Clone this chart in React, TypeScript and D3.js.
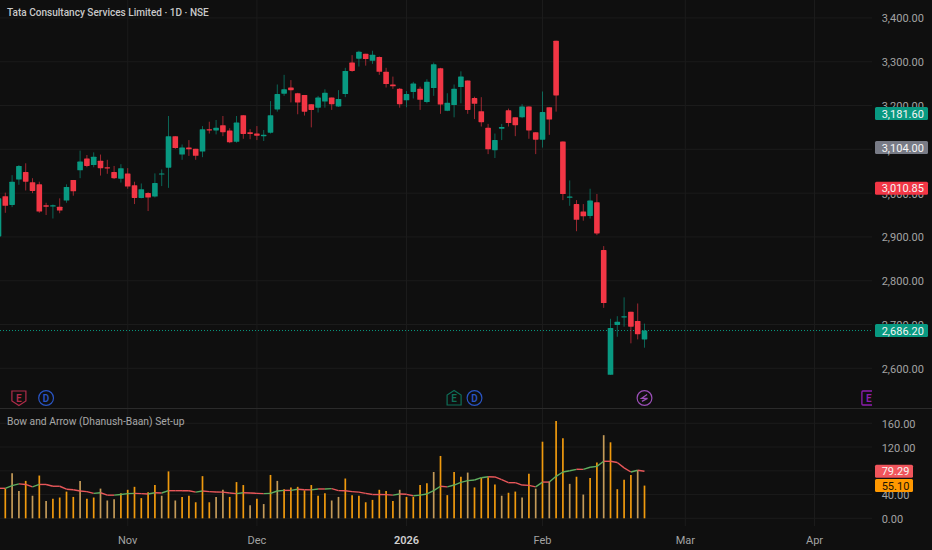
import React from "react";
import * as d3 from "d3";

const title = "Tata Consultancy Services Limited · 1D · NSE";
const paneTitle = "Bow and Arrow (Dhanush-Baan) Set-up";

const opens = [2901,2993,2973,3031,3048,3025,3020,2972,2970,2969,2983,3030,3052,3079,3064,3074,3059,3048,3033,3045,3018,2989,3000,2992,3043,3058,3130,3088,3104,3101,3095,3146,3143,3155,3143,3117,3178,3139,3136,3130,3138,3191,3227,3241,3228,3224,3203,3195,3209,3218,3198,3226,3298,3307,3318,3302,3311,3277,3248,3238,3212,3231,3238,3208,3240,3285,3188,3201,3242,3257,3217,3187,3149,3098,3147,3189,3173,3173,3198,3139,3122,3196,3348,3118,2990,2975,2958,2948,2979,2870,2585,2699,2718,2729,2708,2666];
const highs = [2988,3001,3041,3064,3068,3034,3026,2978,2974,2988,3020,3030,3097,3087,3093,3088,3076,3062,3066,3057,3026,3022,3002,3045,3054,3176,3130,3111,3121,3101,3153,3163,3167,3176,3148,3176,3178,3146,3153,3144,3210,3248,3270,3258,3229,3224,3203,3222,3237,3218,3235,3286,3315,3325,3318,3325,3312,3286,3266,3240,3233,3254,3243,3260,3298,3286,3228,3248,3278,3257,3220,3219,3158,3136,3158,3193,3173,3203,3198,3139,3232,3196,3348,3118,3029,2984,2975,3010,2998,2879,2713,2719,2762,2729,2748,2702];
const lows = [2897,2955,2968,3019,3006,3000,2955,2950,2942,2954,2978,2994,3034,3059,3059,3040,3044,3032,3024,3010,2975,2988,2959,2990,3016,3012,3101,3076,3085,3076,3082,3136,3134,3130,3114,3115,3124,3123,3121,3119,3136,3186,3222,3207,3180,3177,3150,3184,3195,3190,3197,3219,3277,3289,3291,3295,3270,3241,3238,3195,3196,3216,3190,3205,3222,3181,3187,3173,3205,3181,3169,3152,3089,3080,3121,3152,3130,3171,3124,3089,3104,3133,3186,2984,2971,2913,2937,2942,2904,2738,2585,2672,2695,2657,2666,2647];
const closes = [2988,2971,3026,3062,3026,3005,2958,2969,2972,2960,3014,3004,3072,3062,3083,3057,3057,3034,3057,3015,2989,3009,2990,3023,3045,3130,3103,3104,3100,3085,3146,3143,3149,3139,3116,3161,3135,3135,3131,3133,3178,3226,3237,3235,3207,3186,3190,3218,3229,3203,3215,3279,3279,3323,3306,3316,3277,3249,3244,3203,3226,3250,3213,3254,3294,3202,3206,3238,3266,3190,3204,3162,3100,3121,3151,3160,3155,3198,3143,3122,3185,3168,3223,2998,2992,2939,2947,2983,2908,2749,2692,2706,2719,2695,2678,2686.2];

const volumes = [52,50,76,46,63,38,72,29,33,35,45,36,63,33,35,50,30,32,42,48,53,34,44,56,38,79,30,36,38,27,71,27,36,48,36,61,56,22,33,24,73,63,49,52,53,47,56,38,42,30,36,67,39,38,27,31,48,46,29,48,36,36,56,59,78,105,39,78,70,77,52,68,69,57,38,43,45,35,75,50,129,62,164,135,58,70,40,68,94,140,128,49,65,73,81,55.1];
const fadedVolumeIndex = [2,3,5,7,12,15,16,17,24,26,32,33,37,39,41,49,50,59,64,69,74,77,79,81,84,86,89,94];
const volumeMA = [50.5,50.5,55,58,57,53,57,57,54,54,49,48,46,45,42,43,39,39,40,41.5,42,41.5,41,43,42.6,46.5,46.5,46.5,46.4,44,46,45,44.3,44,42.6,41.5,43,42.6,42,41.5,42,46,47,47,49,48,47.8,49.4,49.4,50,46.6,46.5,45,44,42,40,40,39.8,39,41,40.4,38,39,41,46.5,54,53,56,60.6,63.4,64.5,68.4,70,69.6,65,60,60,56,55.5,53,61,61,70.7,78,80,82.5,82.4,86,87.5,96,96,94,85,78,81,79.29];

const priceTicks = [3400,3300,3200,3100,3000,2900,2800,2700,2600];
const volumeTicks = [160,120,80,40,0];
const timeTickIndex = [19,38,60,80,101,120];
const timeTickLabels = ["Nov","Dec","2026","Feb","Mar","Apr"];
const lastPrice = 2686.2;
const highTag = 3181.6;
const midTag = 3104;
const lowTag = 3010.85;
const maTag = 79.29;
const volTag = 55.1;

const eventE1 = 3, eventD1 = 7, eventE2 = 67, eventD2 = 70, eventBolt = 95, eventE3 = 128;

const BG = "#0f0f0f", GRID = "#1b1b1b", SEP = "#2b2b2b";
const UP = "#089981", DOWN = "#f23645", TXT = "#a3a3a3", ORANGE = "#f09a0e", TAN = "#c39a58";
const FONT = "Roboto, 'Noto Sans', sans-serif";

const W = 932, H = 550, plotRight = 872, priceBottom = 408.5;
const x = d3.scaleLinear().domain([0, 1]).range([-1.5, 5.3]);
const y = d3.scaleLinear().domain([3300, 2600]).range([61.7, 368.3]);
const v = d3.scaleLinear().domain([0, 160]).range([518.3, 423.3]);
const ix = d3.range(closes.length);
const fmt = d3.format(",.2f");

function Tag({ cy, text, fill, w = 53, color = "#f5f5f5" }: any) {
  return (
    <g>
      <rect x={875} y={cy - 6.5} width={w} height={13} rx={1.5} fill={fill} />
      <text x={881.7} y={cy + 4} fontSize={11} fill={color} fontFamily={FONT}>{text}</text>
    </g>
  );
}

function Marker({ i, kind, color }: any) {
  const cx = x(i), cy = 398;
  let shape;
  if (kind === "shield") shape = <path d={`M${cx-7},${cy-7}H${cx+7}V${cy+3}L${cx},${cy+7.5}L${cx-7},${cy+3}Z`} fill={BG} stroke={color} strokeWidth={1.2} />;
  else if (kind === "house") shape = <path d={`M${cx-7},${cy+7}H${cx+7}V${cy-3}L${cx},${cy-7.5}L${cx-7},${cy-3}Z`} fill={BG} stroke={color} strokeWidth={1.2} />;
  else if (kind === "square") shape = <path d={`M${plotRight},${cy-7}H${cx-6}a1,1 0 0 0 -1,1V${cy+6}a1,1 0 0 0 1,1H${plotRight}`} fill={BG} stroke={color} strokeWidth={1.3} />;
  else shape = <circle cx={cx} cy={cy} r={7.4} fill={BG} stroke={color} strokeWidth={1.2} />;
  return (
    <g>
      {shape}
      {kind === "bolt"
        ? <path d={`M${cx+2.6},${cy-3.4}L${cx-3},${cy+0.4}H${cx+3}L${cx-2.6},${cy+3.4}`} fill="none" stroke={color} strokeWidth={1.2} />
        : <text x={cx} y={cy + 3.5} textAnchor="middle" fontSize={10} fontWeight={600} fill={color} fontFamily={FONT}>{kind === "circle" ? "D" : "E"}</text>}
    </g>
  );
}

export default function App() {
  const maLine = d3.line<number>().x((i) => x(i)).y((i) => v(volumeMA[i]));
  return (
    <div>
      <style>{`html,body{margin:0;padding:0;background:${BG}}`}</style>
      <svg width={W} height={H} viewBox={`0 0 ${W} ${H}`} style={{ display: "block", background: BG }}>
        {priceTicks.map((t) => (
          <line key={t} x1={0} x2={plotRight} y1={y(t)} y2={y(t)} stroke={GRID} />
        ))}
        {volumeTicks.map((t) => (
          <line key={t} x1={0} x2={plotRight} y1={v(t)} y2={v(t)} stroke={GRID} />
        ))}
        {timeTickIndex.map((t) => (
          <g key={t}>
            <line x1={x(t)} x2={x(t)} y1={0} y2={priceBottom} stroke={GRID} />
            <line x1={x(t)} x2={x(t)} y1={priceBottom} y2={526} stroke={GRID} />
          </g>
        ))}
        <line x1={0} x2={W} y1={priceBottom} y2={priceBottom} stroke={SEP} />

        <line x1={0} x2={plotRight} y1={y(lastPrice)} y2={y(lastPrice)} stroke={UP} strokeDasharray="1 2" />

        {ix.map((i) => {
          const up = closes[i] >= opens[i];
          const col = up ? UP : DOWN;
          const top = y(Math.max(opens[i], closes[i]));
          const bot = y(Math.min(opens[i], closes[i]));
          return (
            <g key={i}>
              <line x1={x(i)} x2={x(i)} y1={y(highs[i])} y2={y(lows[i])} stroke={col} strokeWidth={1} opacity={0.62} />
              <rect x={x(i) - 2.8} width={5.6} y={top} height={Math.max(bot - top, 1.2)} rx={0.6} fill={col} />
            </g>
          );
        })}

        <Marker i={eventE1} kind="shield" color="#b02c4a" />
        <Marker i={eventD1} kind="circle" color="#2a55c4" />
        <Marker i={eventE2} kind="house" color="#0f6e58" />
        <Marker i={eventD2} kind="circle" color="#2a55c4" />
        <Marker i={eventBolt} kind="bolt" color="#9b4fb8" />
        <Marker i={eventE3} kind="square" color="#8e1fb0" />

        {ix.map((i) => (
          <line key={i} x1={x(i)} x2={x(i)} y1={v(0)} y2={v(volumes[i])}
            stroke={fadedVolumeIndex.includes(i) ? TAN : ORANGE} strokeWidth={1.7} />
        ))}
        {ix.slice(1).map((i) => (
          <path key={i} d={maLine([i - 1, i]) as string} fill="none"
            stroke={volumeMA[i] > volumeMA[i - 1] ? "#5fae5f" : "#e8575a"} strokeWidth={1.4} />
        ))}

        <rect x={plotRight} y={0} width={W - plotRight} height={priceBottom - 0.5} fill={BG} />
        <rect x={plotRight} y={priceBottom + 0.5} width={W - plotRight} height={H - priceBottom} fill={BG} />

        {priceTicks.map((t) => (
          <text key={t} x={881.7} y={y(t) + 1} dy="0.32em" fontSize={11} fill={TXT} fontFamily={FONT}>{fmt(t)}</text>
        ))}
        {volumeTicks.map((t) => (
          <text key={t} x={881.7} y={v(t) + 1} dy="0.32em" fontSize={11} fill={TXT} fontFamily={FONT}>{fmt(t)}</text>
        ))}
        <Tag cy={y(highTag)} text={fmt(highTag)} fill={UP} />
        <Tag cy={y(midTag)} text={fmt(midTag)} fill="#787b86" />
        <Tag cy={y(lowTag)} text={fmt(lowTag)} fill={DOWN} />
        <Tag cy={y(lastPrice)} text={fmt(lastPrice)} fill={UP} />
        <Tag cy={v(maTag)} text={fmt(maTag)} fill="#f0555c" w={38} />
        <Tag cy={v(volTag)} text={fmt(volTag)} fill="#ff9800" w={38} color="#1c1405" />

        {timeTickIndex.map((t, k) => (
          <text key={t} x={x(t)} y={543.5} textAnchor="middle" fontSize={11}
            fontWeight={timeTickLabels[k] === "2026" ? 600 : 400}
            fill={timeTickLabels[k] === "2026" ? "#cfcfcf" : TXT} fontFamily={FONT}>{timeTickLabels[k]}</text>
        ))}

        <text x={7} y={16} fontSize={10.05} fontWeight={500} fill="#c9c9c9" fontFamily={FONT}>{title}</text>
        <text x={7} y={425} fontSize={10.3} fill="#a8a8a8" fontFamily={FONT}>{paneTitle}</text>
      </svg>
    </div>
  );
}
